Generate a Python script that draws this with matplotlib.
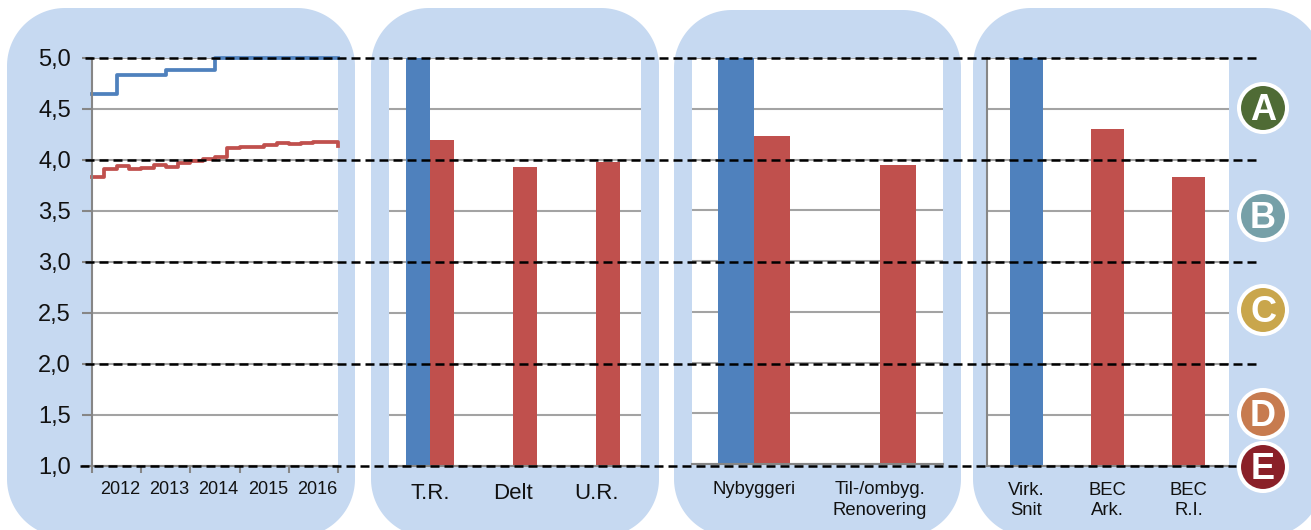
import matplotlib

matplotlib.use("Agg")
import matplotlib.pyplot as plt
import numpy as np
from matplotlib.patches import Circle, Polygon

plt.rcParams["font.family"] = ["Liberation Sans", "DejaVu Sans"]

# Data
years = ["2012", "2013", "2014", "2015", "2016"]
line_blue = [4.65, 4.65, 4.83, 4.83, 4.83, 4.83, 4.88, 4.88, 4.88, 4.88,
             5.0, 5.0, 5.0, 5.0, 5.0, 5.0, 5.0, 5.0, 5.0, 5.0, 5.0]
line_red = [3.83, 3.91, 3.94, 3.91, 3.925, 3.95, 3.93, 3.97, 3.99, 4.01,
            4.03, 4.12, 4.13, 4.125, 4.15, 4.17, 4.16, 4.17, 4.18, 4.175, 4.14]

tenure_labels = ["T.R.", "Delt", "U.R."]
tenure_blue = [5.0, np.nan, np.nan]
tenure_red = [4.2, 3.93, 3.98]

build_labels = ["Nybyggeri", "Til-/ombyg.\nRenovering"]
build_blue = [5.0, np.nan]
build_red = [4.23, 3.95]

firm_labels = ["Virk.\nSnit", "BEC\nArk.", "BEC\nR.I."]
firm_values = [5.0, 4.3, 3.83]
firm_colors = ["#4F81BD", "#C0504D", "#C0504D"]

grades = ["A", "B", "C", "D", "E"]
grade_colors = ["#4F6B35", "#76A0A8", "#C9A64C", "#C77B4F", "#8A2028"]

y_ticks = [1.0, 1.5, 2.0, 2.5, 3.0, 3.5, 4.0, 4.5, 5.0]
dashed_levels = [5.0, 4.0, 3.0, 2.0]

W, H = 1311, 530
BLUE, RED = "#4F81BD", "#C0504D"
PANEL = "#C6D9F1"
GRID = "#A3A3A3"
AXIS = "#868686"
TEXT = "#111111"
DASHES = (3.6, 2.0)


def y_px(value):
    return 466 - (value - 1) * 102


def add_axes_px(fig, left, top, right, bottom):
    ax = fig.add_axes(
        [left / W, 1 - bottom / H, (right - left) / W, (bottom - top) / H]
    )
    ax.set_zorder(1)
    ax.set_ylim(1, 5)
    ax.set_yticks(y_ticks)
    ax.grid(axis="y", color=GRID, lw=1.5)
    ax.set_axisbelow(True)
    for side in ["top", "right", "left"]:
        ax.spines[side].set_visible(False)
    ax.spines["bottom"].set_color(AXIS)
    ax.spines["bottom"].set_linewidth(1.5)
    ax.tick_params(axis="both", length=0)
    ax.set_yticklabels([])
    return ax


def show_left_spine(ax):
    ax.spines["left"].set_visible(True)
    ax.spines["left"].set_color(AXIS)
    ax.spines["left"].set_linewidth(1.5)


def bars(ax, blue, red, width):
    x = np.arange(len(red))
    ax.bar(x, np.array(blue) - 1, width=-width, bottom=1, align="edge", color=BLUE)
    ax.bar(x, np.array(red) - 1, width=width, bottom=1, align="edge", color=RED)


def rounded_panel(left, top, right, bottom, radius=58):
    points = []
    corners = [
        (right - radius, top + radius, -90),
        (right - radius, bottom - radius, 0),
        (left + radius, bottom - radius, 90),
        (left + radius, top + radius, 180),
    ]
    for cx, cy, start in corners:
        angles = np.radians(np.linspace(start, start + 90, 40))
        points += list(zip(cx + radius * np.cos(angles), cy + radius * np.sin(angles)))
    return Polygon(points, closed=True, fc=PANEL, ec="none")


fig = plt.figure(figsize=(W / 100, H / 100), dpi=100, facecolor="white")

# background panels and overlay share the same pixel coordinates
back = fig.add_axes([0, 0, 1, 1], zorder=0)
back.set_xlim(0, W)
back.set_ylim(H, 0)
back.axis("off")
for left, top, right in [(7, 8, 355), (371, 8, 659), (674, 10, 961), (973, 8, 1323)]:
    back.add_patch(rounded_panel(left, top, right, 537))

# line panel
ax1 = add_axes_px(fig, 92, 58, 338, 466)
x_line = np.arange(len(line_red)) / 4
ax1.step(x_line, line_blue, where="post", color=BLUE, lw=2.7, clip_on=False)
ax1.step(x_line, line_red, where="post", color=RED, lw=2.7, clip_on=False)
ax1.set_xlim(0, 5)
ax1.set_xticks(range(6))
ax1.set_xticklabels([])
show_left_spine(ax1)
ax1.tick_params(axis="x", length=5, color=AXIS, width=1.5)
ax1.tick_params(axis="y", length=7, color=AXIS, width=1.5)
for i, year in enumerate(years):
    back.text(120 + i * 49.3, 490, year, ha="center", va="center", fontsize=13, color=TEXT)
for tick in y_ticks:
    back.text(71, y_px(tick) + 8, f"{tick:.1f}".replace(".", ","), ha="right",
              va="baseline", fontsize=17, color=TEXT)

# tenure panel
ax2 = add_axes_px(fig, 389, 58, 641, 466)
bars(ax2, tenure_blue, tenure_red, 24 / 83)
ax2.set_xlim(-41 / 83, 211 / 83)
ax2.set_xticks(range(3))
ax2.set_xticklabels(tenure_labels, fontsize=16, color=TEXT)
ax2.tick_params(axis="x", pad=12.5)

# building type panel
ax3 = add_axes_px(fig, 692, 58, 943, 464)
bars(ax3, build_blue, build_red, 36 / 126)
ax3.set_xlim(-62 / 126, 189 / 126)
ax3.set_xticks(range(2))
ax3.set_xticklabels(build_labels, fontsize=13.3, color=TEXT, linespacing=1.25)
ax3.tick_params(axis="x", pad=12.5)

# firm panel
ax4 = add_axes_px(fig, 987, 58, 1229, 466)
ax4.bar(range(3), np.array(firm_values) - 1, width=33 / 81, bottom=1, color=firm_colors)
ax4.set_xlim(-39.5 / 81, 202.5 / 81)
ax4.set_xticks(range(3))
ax4.set_xticklabels(firm_labels, fontsize=13.3, color=TEXT, linespacing=1.25)
show_left_spine(ax4)
ax4.tick_params(axis="x", pad=11.5)

# overlay with dashed levels and grade badges
over = fig.add_axes([0, 0, 1, 1], zorder=3)
over.set_xlim(0, W)
over.set_ylim(H, 0)
over.axis("off")
for level in dashed_levels:
    over.plot([85, 1258], [y_px(level)] * 2, color="black", lw=1.8, dashes=DASHES)
over.plot([80, 1236], [y_px(1)] * 2, color="black", lw=1.8, dashes=DASHES)

badge_y = [108, 216, 310, 414, 467]
for grade, color, y in zip(grades, grade_colors, badge_y):
    over.add_patch(Circle((1263, y), 24, fc=color, ec="white", lw=2.9, zorder=4))
    over.text(1263, y + 2.5, grade, color="white", fontsize=26, fontweight="bold",
              ha="center", va="center", zorder=5)

fig.savefig("out.png", dpi=100)
